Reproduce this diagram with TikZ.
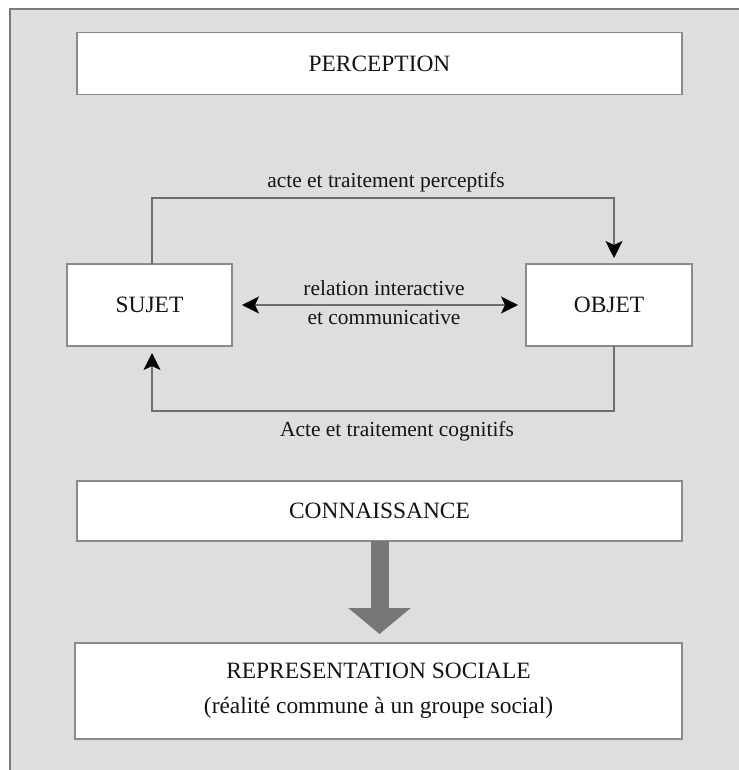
\documentclass[tikz,border=0pt]{standalone}
\usepackage{fontspec}
\setmainfont{Liberation Serif}
\usetikzlibrary{arrows.meta}
\definecolor{bggrey}{HTML}{DEDEDE}
\definecolor{frameline}{HTML}{7A7A7A}
\definecolor{boxline}{HTML}{8A8A8A}
\definecolor{connline}{HTML}{6E6E6E}
\definecolor{bigarrow}{HTML}{777777}
\definecolor{txt}{HTML}{141414}
\tikzset{
  box/.style={draw=boxline, fill=white, line width=1.5bp, text=txt, outer sep=0pt, inner sep=0pt, align=center,
    font=\fontsize{23.5}{35}\selectfont},
  lbl/.style={text=txt, inner sep=0pt, align=center, font=\fontsize{21.5}{30}\selectfont},
  conn/.style={draw=connline, line width=1.5bp},
  tip/.style={-{Stealth[black, length=17bp, width=17bp, inset=4bp]}},
  bigtip/.style={draw=bigarrow, line width=18bp, -{Triangle[length=26bp 0 0, width=61bp 0 0, bigarrow]}}
}
\begin{document}
\begin{tikzpicture}[x=1bp, y=-1bp]
\useasboundingbox (0,0) rectangle (739,770);
\fill[white] (0,0) rectangle (739,770);
\fill[bggrey] (10,9) rectangle (739,770);
\draw[frameline, line width=2bp] (10,770) -- (10,9) -- (739,9);

\node[box, minimum width=605bp, minimum height=62bp] (perc) at (379.5,63.5) {PERCEPTION};
\node[box, minimum width=165bp, minimum height=82bp] (sujet) at (149.5,305) {SUJET};
\node[box, minimum width=166bp, minimum height=82bp] (objet) at (609,305) {OBJET};
\node[box, minimum width=605bp, minimum height=60bp] (conn) at (379.5,511) {CONNAISSANCE};
\node[box, minimum width=607bp, minimum height=96bp] (rep) at (378.5,691) {REPRESENTATION SOCIALE\\(réalité commune à un groupe social)};

\coordinate (tl) at (152,198);
\coordinate (tr) at (614,198);
\coordinate (bl) at (152,411);
\coordinate (br) at (614,411);

\draw[conn, tip, shorten >=6bp] (sujet.north -| tl) -- (tl) -- (tr) -- (objet.north -| tr);
\draw[conn, tip, shorten >=7bp] (objet.south -| br) -- (br) -- (bl) -- (sujet.south -| bl);
\draw[conn, {Stealth[black, length=17bp, width=17bp, inset=4bp]}-{Stealth[black, length=17bp, width=17bp, inset=4bp]}, shorten <=10bp, shorten >=8bp] (sujet.east) -- (objet.west);

\node[lbl] (l1) at (386,182) {acte et traitement perceptifs};
\node[lbl] (l2) at (384,288) {relation interactive};
\node[lbl] (l3) at (384,318) {et communicative};
\node[lbl] (l4) at (397,431) {Acte et traitement cognitifs};

\draw[bigtip, shorten >=9bp] (conn.south) -- (rep.north -| conn.south);
\end{tikzpicture}
\end{document}
